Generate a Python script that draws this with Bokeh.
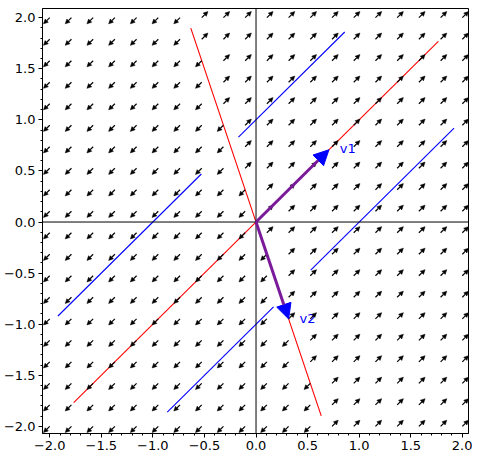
import numpy as np
from bokeh.plotting import figure
from bokeh.models import (Arrow, NormalHead, ColumnDataSource, Span,
                          SingleIntervalTicker, CustomJSTickFormatter, Range1d)
from bokeh.core.properties import value
from bokeh.embed import file_html
from bokeh.resources import INLINE

# ---- data ----
grid_x = np.linspace(-2.0, 2.0, 20)
grid_y = np.linspace(-2.0, 2.0, 20)
v1 = [0.7071, 0.7071]
v2 = [0.3162, -0.9487]
v1_line_t = [-2.5, 2.5]
v2_line_t = [-2.0, 2.0]
traj_x = [[-1.92, -0.53], [-0.17, 0.86], [0.53, 1.92], [-0.86, 0.17]]
traj_y = [[-0.92, 0.47], [0.83, 1.86], [-0.47, 0.92], [-1.86, -0.83]]
label_text = ["v1", "v2"]
label_x = [0.89, 0.50]
label_y = [0.72, -0.94]

FONT = "DejaVu Sans"

p = figure(width=472, height=456, output_backend="svg", toolbar_location=None,
           x_range=Range1d(-2.07, 2.06), y_range=Range1d(-2.07, 2.09),
           min_border_left=40, min_border_right=4, min_border_top=8,
           min_border_bottom=23)
p.grid.visible = False
p.outline_line_color = "black"
p.outline_line_width = 1
p.background_fill_color = "white"

# ---- vector field (normalised, direction of v1 component) ----
gx, gy = np.meshgrid(grid_x, grid_y)
gx = gx.ravel(); gy = gy.ravel()
comp = (3 * gx + gy) / 4.0
s = np.sign(comp)
L = 0.085
dx = s * L / np.sqrt(2)
dy = s * L / np.sqrt(2)
field_src = ColumnDataSource(dict(x0=gx, y0=gy, x1=gx + dx, y1=gy + dy))
p.add_layout(Arrow(end=NormalHead(size=4.5, fill_color="black", line_color="black", line_width=0.5),
                   source=field_src, x_start="x0", y_start="y0", x_end="x1", y_end="y1",
                   line_color="black", line_width=1.2))

# axes through origin
p.add_layout(Span(location=0, dimension="height", line_color="black", line_width=1))
p.add_layout(Span(location=0, dimension="width", line_color="black", line_width=1))

# ---- eigen lines ----
p.line([t * v1[0] for t in v1_line_t], [t * v1[1] for t in v1_line_t], line_color="red", line_width=1.1)
p.line([t * v2[0] for t in v2_line_t], [t * v2[1] for t in v2_line_t], line_color="red", line_width=1.1)

# ---- trajectories ----
p.multi_line(traj_x, traj_y, line_color="blue", line_width=1.1)

# ---- eigenvector arrows ----
for v in (v1, v2):
    p.add_layout(Arrow(end=NormalHead(size=15, fill_color="blue", line_color="blue", line_width=1),
                       x_start=0, y_start=0, x_end=v[0], y_end=v[1],
                       line_color="#7a1a9a", line_width=3))

p.text(x=label_x, y=label_y, text=label_text, text_color="blue",
       text_font=value(FONT), text_font_size="13px",
       text_align="center", text_baseline="middle")

# ---- axes styling ----
fmt = CustomJSTickFormatter(code="""
if (Math.abs(tick) < 1e-9) { return "0.0"; }
return tick.toFixed(1).replace("-", "\u2212");
""")
for ax in (p.xaxis[0], p.yaxis[0]):
    ax.ticker = SingleIntervalTicker(interval=0.5, num_minor_ticks=5)
    ax.formatter = fmt
    ax.major_tick_out = 4
    ax.major_tick_in = 0
    ax.minor_tick_out = 2
    ax.minor_tick_in = 0
    ax.major_label_text_font = FONT
    ax.major_label_text_font_size = "13px"
    ax.major_label_text_color = "black"
    ax.axis_line_color = "black"
    ax.major_tick_line_color = "black"
    ax.minor_tick_line_color = "black"
    ax.major_label_standoff = 3

open("out.html", "w").write(file_html(p, INLINE))
